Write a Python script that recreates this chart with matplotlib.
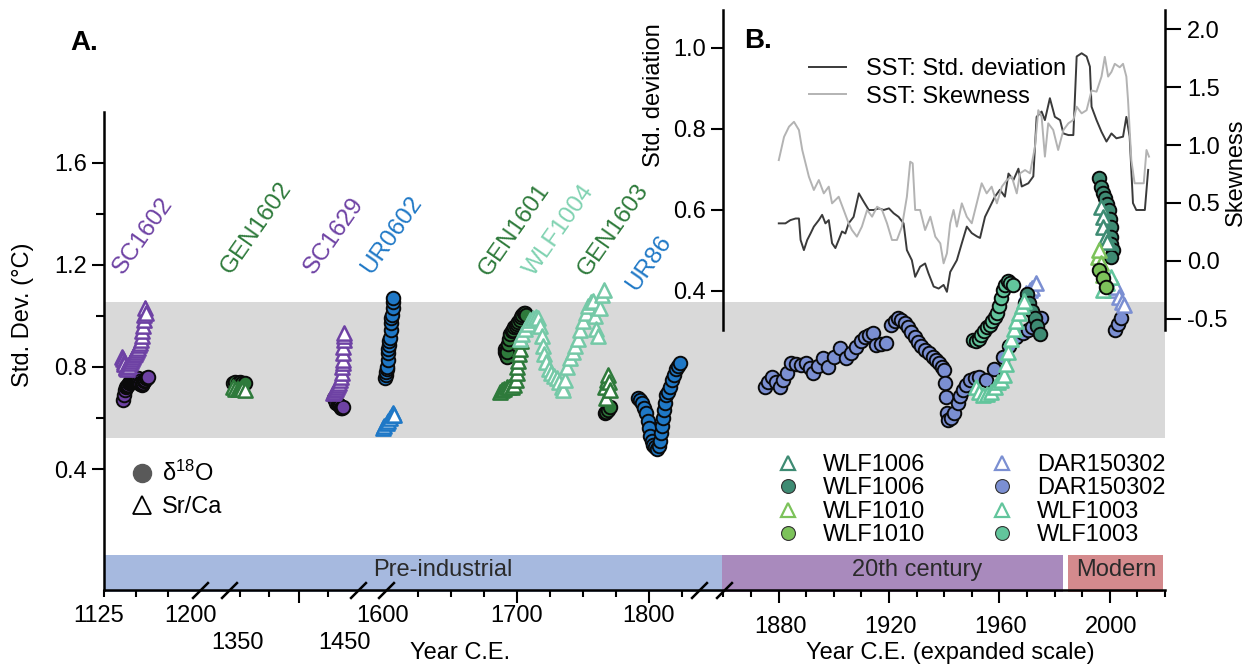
import numpy as np
import matplotlib
matplotlib.use("Agg")
import matplotlib.pyplot as plt
from matplotlib.lines import Line2D
from matplotlib.path import Path
from matplotlib.ticker import FixedLocator, NullFormatter, FormatStrFormatter

plt.rcParams['font.family'] = ['Liberation Sans', 'DejaVu Sans']
plt.rcParams['mathtext.default'] = 'regular'
plt.rcParams['axes.linewidth'] = 1.8

# ------------------------- DATA -------------------------
sc1602_d18o_yr = [1140.0, 1140.8, 1141.5, 1142.3, 1143.0, 1143.8, 1144.5, 1145.3, 1146.0, 1146.8, 1147.5, 1148.3,
                  1149.0, 1149.8, 1150.5, 1151.3, 1152.0, 1152.8, 1153.5, 1154.3, 1155.0, 1155.8, 1156.5, 1157.3,
                  1158.0, 1158.8, 1159.5]
sc1602_d18o = [0.67, 0.69, 0.71, 0.72, 0.725, 0.73, 0.735, 0.74, 0.742, 0.745, 0.748, 0.75, 0.752, 0.755, 0.757,
               0.755, 0.745, 0.737, 0.733, 0.73, 0.732, 0.738, 0.745, 0.75, 0.755, 0.758, 0.762]
sc1602_srca_yr = [1138.8, 1139.5, 1140.3, 1141.0, 1141.8, 1142.5, 1143.3, 1144.0, 1144.8, 1145.5, 1146.3, 1147.0,
                  1147.8, 1148.5, 1149.3, 1150.0, 1150.8, 1151.5, 1152.3, 1153.0, 1153.8, 1154.5, 1155.0, 1155.5,
                  1156.0, 1156.5, 1157.0, 1157.8]
sc1602_srca = [0.84, 0.83, 0.82, 0.81, 0.80, 0.795, 0.79, 0.80, 0.805, 0.815, 0.825, 0.83, 0.84, 0.845, 0.85, 0.86,
               0.865, 0.875, 0.885, 0.895, 0.905, 0.92, 0.94, 0.96, 0.985, 1.005, 1.03, 1.01]

gen1602_d18o_yr = [1344, 1346, 1348, 1350, 1352, 1354]
gen1602_d18o = [0.735, 0.74, 0.738, 0.74, 0.737, 0.735]
gen1602_srca_yr = [1344, 1346, 1348, 1350, 1352, 1354]
gen1602_srca = [0.72, 0.715, 0.713, 0.715, 0.712, 0.71]

sc1629_d18o_yr = [1430.0, 1431.0, 1432.0, 1433.0, 1434.0, 1435.0, 1436.0, 1437.0, 1437.8]
sc1629_d18o = [0.68, 0.67, 0.66, 0.655, 0.65, 0.645, 0.64, 0.638, 0.643]
sc1629_srca_yr = [1429.1, 1430.0, 1430.9, 1431.8, 1432.6, 1433.5, 1434.3, 1435.1, 1436.0, 1436.8, 1437.2, 1437.5,
                  1437.7, 1437.7, 1437.9, 1438.1, 1438.3, 1438.5]
sc1629_srca = [0.698, 0.703, 0.71, 0.715, 0.72, 0.728, 0.737, 0.749, 0.76, 0.776, 0.80, 0.815, 0.827, 0.854, 0.878,
               0.905, 0.92, 0.933]

ur0602_d18o_yr = [1600.0, 1600.4, 1600.8, 1601.2, 1601.5, 1601.9, 1602.3, 1602.6, 1603.0, 1603.4, 1603.8, 1604.2,
                  1604.5, 1604.9, 1605.3, 1605.7, 1606.0, 1606.4]
ur0602_d18o = [0.757, 0.77, 0.78, 0.79, 0.80, 0.827, 0.855, 0.87, 0.886, 0.90, 0.913, 0.945, 0.972, 0.99, 1.003,
               1.03, 1.054, 1.07]
ur0602_srca_yr = [1590.7, 1597.0, 1601.3, 1602.5, 1603.8, 1605.0, 1606.3, 1606.7]
ur0602_srca = [0.56, 0.57, 0.58, 0.59, 0.60, 0.61, 0.62, 0.61]

gen1601_d18o_yr = [1690.5, 1691.0, 1691.5, 1692.0, 1692.5, 1693.0, 1694.0, 1695.0, 1696.0, 1697.0, 1698.0, 1699.0,
                   1700.0, 1701.0, 1702.0, 1703.0, 1704.0, 1705.0, 1706.0, 1707.0]
gen1601_d18o = [0.87, 0.86, 0.85, 0.84, 0.86, 0.89, 0.91, 0.93, 0.94, 0.945, 0.955, 0.96, 0.97, 0.975, 0.985, 0.995,
                1.005, 1.01, 1.01, 1.005]
gen1601_srca_yr = [1687, 1688.5, 1690, 1692, 1694, 1696, 1698, 1699, 1699.7, 1700.2, 1700.9, 1701.5, 1702.2, 1703]
gen1601_srca = [0.70, 0.71, 0.715, 0.72, 0.72, 0.722, 0.73, 0.75, 0.775, 0.80, 0.825, 0.85, 0.87, 0.90]

wlf1004_srca_yr = [1702.2, 1704, 1706, 1708, 1710, 1712, 1714, 1716, 1717.5, 1718.5, 1719.5, 1720.5, 1722, 1724,
                   1726, 1728, 1730, 1732, 1734, 1735, 1736.5, 1738, 1740, 1742, 1744, 1746, 1748, 1750, 1752, 1754,
                   1756, 1757.5, 1759, 1760, 1761.5, 1763, 1764.5, 1766]
wlf1004_srca = [0.91, 0.93, 0.95, 0.97, 0.985, 0.99, 0.995, 0.99, 0.96, 0.92, 0.88, 0.85, 0.82, 0.79, 0.775, 0.765,
                0.755, 0.74, 0.72, 0.71, 0.75, 0.80, 0.835, 0.86, 0.88, 0.91, 0.945, 0.98, 1.01, 1.04, 1.055, 1.06,
                1.0, 0.95, 0.92, 1.03, 1.08, 1.10]

gen1603_d18o_yr = [1766.5, 1767.5, 1768.8, 1770.3]
gen1603_d18o = [0.62, 0.625, 0.631, 0.643]
gen1603_srca_yr = [1766.5, 1767.3, 1768.0, 1768.8, 1769.5, 1770.3]
gen1603_srca = [0.72, 0.68, 0.75, 0.768, 0.74, 0.71]

ur86_d18o_yr = [1791.5, 1793, 1794.5, 1796, 1797.5, 1799, 1800, 1801, 1802, 1803, 1804.5, 1806, 1807.5, 1808.5,
                1809.2, 1809.7, 1810.2, 1811, 1812, 1813, 1814.5, 1816, 1817.5, 1819, 1820.5, 1822, 1823.5]
ur86_d18o = [0.68, 0.67, 0.66, 0.64, 0.62, 0.59, 0.56, 0.53, 0.51, 0.495, 0.485, 0.48, 0.49, 0.51, 0.54, 0.57, 0.60,
             0.63, 0.66, 0.69, 0.70, 0.72, 0.75, 0.77, 0.79, 0.805, 0.815]

dar150302_d18o_yr = [1875.0, 1876.3, 1877.5, 1879.0, 1880.5, 1881.7, 1882.9, 1884.7, 1886.5, 1888.3, 1890.1, 1891.3,
                     1892.5, 1894.3, 1896.2, 1898.0, 1900.1, 1902.2, 1904.6, 1906.4, 1908.2, 1909.7, 1911.2, 1912.7,
                     1914.2, 1915.4, 1917.2, 1919.0, 1920.9, 1922.1, 1923.3, 1924.5, 1925.7, 1926.9, 1928.1, 1929.3,
                     1930.5, 1931.7, 1932.9, 1934.4, 1935.9, 1937.1, 1938.3, 1939.2, 1940.1, 1940.4, 1940.7, 1941.0,
                     1941.3, 1942.5, 1943.7, 1944.9, 1945.8, 1946.7, 1948.0, 1949.2, 1951.0, 1952.8, 1955.2, 1958.2,
                     1961.2, 1963.6, 1966.0, 1968.4, 1970.2, 1972.0, 1973.5, 1975.0, 2001.9, 2003.0, 2004.0]
dar150302_d18o = [0.722, 0.74, 0.762, 0.74, 0.722, 0.75, 0.775, 0.814, 0.81, 0.807, 0.814, 0.795, 0.775, 0.805,
                  0.834, 0.80, 0.84, 0.873, 0.834, 0.855, 0.879, 0.90, 0.918, 0.925, 0.932, 0.886, 0.89, 0.892,
                  0.964, 0.978, 0.99, 0.985, 0.971, 0.955, 0.938, 0.918, 0.899, 0.882, 0.866, 0.853, 0.84, 0.827,
                  0.814, 0.80, 0.788, 0.736, 0.683, 0.618, 0.592, 0.60, 0.618, 0.657, 0.685, 0.709, 0.73, 0.749,
                  0.755, 0.762, 0.749, 0.79, 0.84, 0.88, 0.918, 0.932, 0.945, 0.957, 0.975, 0.99, 0.945, 0.97, 0.99]
dar150302_srca_yr = [1969.7, 1971.0, 1972.0, 1973.3, 2000.9, 2002.2, 2003.4, 2004.6, 2005.2]
dar150302_srca = [1.088, 1.10, 1.11, 1.127, 1.10, 1.114, 1.075, 1.055, 1.042]

wlf1003_d18o_yr = [1950.4, 1951.5, 1952.5, 1953.5, 1954.6, 1955.5, 1956.5, 1957.5, 1958.5, 1959.3, 1960.0, 1960.6,
                   1961.2, 1962.0, 1963.0, 1964.0, 1964.8]
wlf1003_d18o = [0.905, 0.90, 0.91, 0.925, 0.94, 0.955, 0.965, 0.98, 0.995, 1.01, 1.04, 1.07, 1.10, 1.12, 1.135,
                1.13, 1.12]
wlf1003_srca_yr = [1951.5, 1952.5, 1954.0, 1955.5, 1957.0, 1958.5, 1959.5, 1960.5, 1961.5, 1962.5, 1963.3, 1964.2,
                   1965.2, 1966.2, 1967.2, 1968.2, 1969.0, 1997.7, 1999.1, 2000.4]
wlf1003_srca = [0.72, 0.70, 0.69, 0.695, 0.70, 0.72, 0.74, 0.75, 0.77, 0.81, 0.86, 0.91, 0.95, 0.98, 1.01, 1.04,
                1.06, 1.10, 1.127, 1.153]

wlf1006_d18o_yr = [1969.3, 1970.0, 1970.8, 1971.8, 1972.8, 1973.8, 1974.8, 1996.2, 1996.8, 1997.5, 1998.2, 1999.1,
                   1999.8, 2000.1, 2000.4, 2000.4, 2000.6, 2001.0, 2000.4]
wlf1006_d18o = [1.05, 1.085, 1.05, 1.02, 0.99, 0.96, 0.93, 1.539, 1.506, 1.48, 1.46, 1.44, 1.415, 1.38, 1.35, 1.31,
                1.28, 1.258, 1.232]
wlf1006_srca_yr = [1996.8, 1997.4, 1997.7, 1998.6, 1999.0]
wlf1006_srca = [1.428, 1.389, 1.35, 1.31, 1.29]

wlf1010_d18o_yr = [1996.2, 1997.4, 1998.6]
wlf1010_d18o = [1.18, 1.147, 1.114]
wlf1010_srca_yr = [1995.6, 1996.2, 1996.8, 1997.4]
wlf1010_srca = [1.232, 1.258, 1.206, 1.16]

# Inset: SST running statistics
sst_std_yr = [1880.1, 1882.5, 1884.3, 1886.2, 1887.4, 1888.0, 1889.2, 1890.4, 1891.6, 1892.8, 1894.6, 1895.8,
              1897.0, 1898.2, 1899.4, 1900.6, 1901.8, 1903.0, 1904.2, 1905.4, 1907.2, 1909.1, 1910.9, 1912.7,
              1914.5, 1916.3, 1918.1, 1920.0, 1921.7, 1923.5, 1925.3, 1926.5, 1928.3, 1929.5, 1931.3, 1933.1,
              1934.3, 1936.2, 1938.0, 1939.8, 1941.0, 1942.2, 1944.6, 1946.4, 1948.2, 1950.0, 1951.8, 1953.0,
              1954.8, 1956.6, 1958.4, 1960.2, 1962.0, 1963.3, 1965.1, 1966.9, 1968.1, 1970.5, 1972.3, 1973.5,
              1975.3, 1976.5, 1978.3, 1980.1, 1982.0, 1983.2, 1985.0, 1986.8, 1988.0, 1989.8, 1991.6, 1992.8,
              1993.4, 1995.2, 1997.0, 1998.8, 2000.6, 2002.4, 2004.8, 2006.0, 2007.2, 2008.4, 2009.6, 2012.7,
              2013.9]
sst_std = [0.567, 0.567, 0.575, 0.579, 0.579, 0.526, 0.501, 0.526, 0.542, 0.559, 0.575, 0.588, 0.567, 0.575, 0.518,
           0.506, 0.526, 0.547, 0.542, 0.567, 0.583, 0.641, 0.62, 0.60, 0.60, 0.604, 0.60, 0.604, 0.592, 0.583,
           0.567, 0.501, 0.476, 0.435, 0.46, 0.468, 0.444, 0.411, 0.406, 0.415, 0.398, 0.447, 0.476, 0.518, 0.559,
           0.543, 0.535, 0.531, 0.583, 0.608, 0.633, 0.65, 0.633, 0.69, 0.674, 0.702, 0.658, 0.666, 0.683, 0.83,
           0.843, 0.822, 0.876, 0.83, 0.822, 0.789, 0.785, 0.785, 0.979, 0.987, 0.979, 0.954, 0.855, 0.822, 0.793,
           0.769, 0.789, 0.777, 0.781, 0.83, 0.781, 0.617, 0.60, 0.60, 0.699]
sst_skew_yr = [1880.1, 1882.0, 1883.8, 1885.6, 1887.4, 1888.6, 1889.8, 1891.0, 1892.8, 1894.6, 1896.4, 1898.2,
               1899.4, 1901.8, 1903.6, 1905.4, 1906.6, 1908.4, 1910.2, 1912.1, 1913.9, 1915.7, 1917.5, 1919.3,
               1921.1, 1922.9, 1924.7, 1926.5, 1927.7, 1928.6, 1929.5, 1931.3, 1933.1, 1935.0, 1936.8, 1938.6,
               1939.8, 1941.0, 1942.2, 1943.4, 1944.6, 1946.4, 1948.2, 1950.0, 1951.8, 1953.6, 1955.4, 1957.2,
               1959.1, 1960.9, 1962.7, 1964.5, 1966.3, 1967.5, 1969.3, 1971.1, 1972.9, 1974.1, 1975.3, 1976.5,
               1977.7, 1979.5, 1981.3, 1983.2, 1985.0, 1986.8, 1988.0, 1989.8, 1991.6, 1993.4, 1995.2, 1997.0,
               1998.2, 1999.4, 2000.6, 2001.8, 2003.6, 2004.8, 2006.0, 2006.6, 2007.8, 2009.0, 2010.9, 2012.3,
               2013.3, 2014.2]
sst_skew = [0.87, 1.07, 1.158, 1.20, 1.129, 0.957, 0.842, 0.727, 0.612, 0.698, 0.583, 0.641, 0.497, 0.554, 0.44,
            0.325, 0.267, 0.21, 0.296, 0.44, 0.382, 0.468, 0.44, 0.325, 0.181, 0.181, 0.296, 0.554, 0.856, 0.842,
            0.44, 0.44, 0.267, 0.382, 0.21, 0.152, -0.02, 0.066, 0.325, 0.44, 0.296, 0.497, 0.382, 0.325, 0.497,
            0.67, 0.583, 0.641, 0.497, 0.641, 0.698, 0.727, 0.583, 0.756, 0.784, 0.756, 0.985, 1.30, 1.244, 0.90,
            1.187, 1.13, 0.957, 1.129, 1.187, 1.216, 1.33, 1.273, 1.30, 1.47, 1.46, 1.59, 1.76, 1.59, 1.63, 1.70,
            1.67, 1.70, 1.59, 1.39, 0.87, 0.67, 0.67, 0.67, 0.957, 0.90]

# periods
period_names = ['Pre-industrial', '20th century', 'Modern']
period_start = [1125, 1858.5, 1985]
period_end = [1858.5, 1983, 2019.3]

# ------------------------- STYLE -------------------------
C_SC = '#6e42a4'
C_GEN = '#2e7a3b'
C_UR = '#1f78c6'
C_WLF1004 = '#75c9a7'
C_WLF1006 = '#3e8b73'
C_WLF1010 = '#7cc25a'
C_DAR = '#7b8fd2'
C_WLF1003 = '#62c59c'
PERIOD_COLORS = ['#a6b9df', '#a98abd', '#d48a8d']

W, H = 1256, 669
fig = plt.figure(figsize=(W / 100, H / 100), dpi=100)


def fx(p):
    return p / W


def fy(p):
    return 1 - p / H


# broken x axis: year -> position (function scale)
axis_years = [1000, 1125, 1200, 1340, 1450, 1600, 1840, 1860, 2020, 2100]
axis_pos = [-56.0, 104.0, 200.0, 228.25, 357.5, 385.0, 702.0, 723.3, 1165.0, 1386.4]


def fwd(x):
    return np.interp(x, axis_years, axis_pos)


def inv(p):
    return np.interp(p, axis_pos, axis_years)


ax = fig.add_axes([fx(104), fy(590), 1061 / W, 478 / H])
ax.set_xscale('function', functions=(fwd, inv))
ax.set_xlim(1125, 2020)
ax.set_ylim(-0.074, 1.7986)
for s in ['top', 'right']:
    ax.spines[s].set_visible(False)

ax.xaxis.set_major_locator(FixedLocator([1400, 1700, 1800, 1880, 1920, 1960, 2000]))
ax.xaxis.set_minor_locator(FixedLocator([1125, 1150, 1175, 1350, 1375, 1425, 1625, 1650, 1675, 1725, 1750, 1775,
                                         1825, 1860, 1870, 1890, 1900, 1910, 1930, 1940, 1950, 1970, 1980, 1990,
                                         2010, 2020]))
ax.xaxis.set_major_formatter(NullFormatter())
ax.xaxis.set_minor_formatter(NullFormatter())
ax.tick_params(axis='x', which='major', length=9.4, width=1.5)
ax.tick_params(axis='x', which='minor', length=5, width=1.5)
ax.yaxis.set_major_locator(FixedLocator([0.4, 0.8, 1.2, 1.6]))
ax.yaxis.set_minor_locator(FixedLocator([0.6, 1.0, 1.4]))
ax.yaxis.set_major_formatter(FormatStrFormatter('%.1f'))
ax.tick_params(axis='y', which='major', length=8.9, width=1.5, pad=3.6, labelsize=17)
ax.tick_params(axis='y', which='minor', length=5.5, width=1.5)

# shaded envelope
ax.axhspan(0.521, 1.056, color='#d9d9d9', lw=0, zorder=0)

# period bars
for name, x0, x1, c in zip(period_names, period_start, period_end, PERIOD_COLORS):
    ax.axvspan(x0, x1, ymin=-0.004, ymax=0.073, color=c, lw=0, zorder=0.5, clip_on=False)

# axis break marks
slash = Path([(-1, -1), (1, 1)], [Path.MOVETO, Path.LINETO])
ax.plot([1201, 1341, 1450.5, 1601, 1838, 1860.3], [0] * 6, transform=ax.get_xaxis_transform(),
        ls='none', marker=slash, ms=12, mew=1.8, mec='k', clip_on=False, zorder=6)


def circ(x, y, c, z=3):
    ax.scatter(x, y, s=95, marker='o', facecolors=c, edgecolors='#0a0a0a', linewidths=1.4, zorder=z)


def tri(x, y, c, z=3.5):
    ax.scatter(x, y, s=105, marker='^', facecolors='white', edgecolors=c, linewidths=1.8, zorder=z)


circ(sc1602_d18o_yr, sc1602_d18o, C_SC)
tri(sc1602_srca_yr, sc1602_srca, C_SC)
circ(gen1602_d18o_yr, gen1602_d18o, C_GEN)
tri(gen1602_srca_yr, gen1602_srca, C_GEN)
tri(sc1629_srca_yr, sc1629_srca, C_SC)
circ(sc1629_d18o_yr, sc1629_d18o, C_SC)
tri(ur0602_srca_yr, ur0602_srca, C_UR)
circ(ur0602_d18o_yr, ur0602_d18o, C_UR)
circ(gen1601_d18o_yr, gen1601_d18o, C_GEN)
tri(gen1601_srca_yr, gen1601_srca, C_GEN)
tri(wlf1004_srca_yr, wlf1004_srca, C_WLF1004)
circ(gen1603_d18o_yr, gen1603_d18o, C_GEN)
tri(gen1603_srca_yr, gen1603_srca, C_GEN)
circ(ur86_d18o_yr, ur86_d18o, C_UR)
circ(dar150302_d18o_yr, dar150302_d18o, C_DAR)
tri(dar150302_srca_yr, dar150302_srca, C_DAR)
circ(wlf1006_d18o_yr, wlf1006_d18o, C_WLF1006, z=3.6)
circ(wlf1003_d18o_yr, wlf1003_d18o, C_WLF1003, z=3.7)
tri(wlf1003_srca_yr, wlf1003_srca, C_WLF1003, z=3.8)
tri(wlf1006_srca_yr, wlf1006_srca, C_WLF1006, z=3.9)
tri(wlf1010_srca_yr, wlf1010_srca, C_WLF1010, z=3.95)
circ(wlf1010_d18o_yr, wlf1010_d18o, C_WLF1010, z=4)

# coral labels
coral_labels = [('SC1602', 123, 275, C_SC), ('GEN1602', 231, 275, C_GEN), ('SC1629', 314, 275, C_SC),
                ('UR0602', 371, 275, C_UR), ('GEN1601', 489, 277, C_GEN), ('WLF1004', 534, 277, '#80d2b1'),
                ('GEN1603', 588, 277, C_GEN), ('UR86', 636, 292, C_UR)]
for name, px, py, c in coral_labels:
    fig.text(fx(px), fy(py), name, rotation=55, rotation_mode='anchor', ha='left', va='baseline',
             color=c, fontsize=17.5)

# x tick labels (broken scale)
for s, px, py in [('1125', 99, 616), ('1200', 190, 616), ('1600', 382.5, 616), ('1700', 516.7, 616),
                  ('1800', 648.5, 616), ('1350', 237.5, 643), ('1450', 344, 643), ('1880', 780, 627),
                  ('1920', 890.7, 627), ('1960', 1001, 627), ('2000', 1110.7, 627)]:
    fig.text(fx(px), fy(py), s, ha='center', va='center', fontsize=17)
fig.text(fx(460), fy(653), 'Year C.E.', ha='center', va='center', fontsize=17)
fig.text(fx(950), fy(653), 'Year C.E. (expanded scale)', ha='center', va='center', fontsize=17)

# period labels
for name, px in zip(period_names, [443, 916.7, 1116]):
    fig.text(fx(px), fy(570), name, ha='center', va='center', fontsize=17, color='#2a2a2a')

fig.text(fx(23), fy(315), 'Std. Dev. (°C)', rotation=90, ha='center', va='center', fontsize=17)
fig.text(fx(70), fy(43), 'A.', fontsize=20, fontweight='bold', va='center', ha='left')

# proxy legend (d18O / Sr/Ca)
h1 = Line2D([], [], ls='none', marker='o', ms=13, mfc='#595959', mec='#595959')
h2 = Line2D([], [], ls='none', marker='^', ms=13, mfc='white', mec='k', mew=1.3)
leg1 = ax.legend([h1, h2], ['δ$^{18}$O', 'Sr/Ca'], loc='upper left', bbox_to_anchor=(fx(130), fy(461)),
                 bbox_transform=fig.transFigure, frameon=False, fontsize=17, handlelength=1.0,
                 handletextpad=0.36, labelspacing=0.42, borderpad=0, borderaxespad=0)
ax.add_artist(leg1)


# sample legend
def lh(marker, c):
    if marker == '^':
        return Line2D([], [], ls='none', marker='^', ms=10, mfc='white', mec=c, mew=1.6)
    return Line2D([], [], ls='none', marker='o', ms=10, mfc=c, mec='#333333', mew=0.8)


leg_handles = [lh('^', C_WLF1006), lh('o', C_WLF1006), lh('^', C_WLF1010), lh('o', C_WLF1010),
               lh('^', C_DAR), lh('o', C_DAR), lh('^', C_WLF1003), lh('o', C_WLF1003)]
leg_labels = ['WLF1006', 'WLF1006', 'WLF1010', 'WLF1010', 'DAR150302', 'DAR150302', 'WLF1003', 'WLF1003']
ax.legend(leg_handles, leg_labels, ncol=2, loc='upper left', bbox_to_anchor=(fx(776), fy(454)),
          bbox_transform=fig.transFigure, frameon=False, fontsize=17, handlelength=1.0, handletextpad=0.97,
          columnspacing=2.78, labelspacing=0.06, borderpad=0, borderaxespad=0)

# ------------------------- INSET -------------------------
axin = fig.add_axes([fx(723.3), fy(330), 441.7 / W, 320 / H])
axin.patch.set_visible(False)
axin.set_xlim(1860, 2020)
axin.set_ylim(0.3037, 1.0938)
for s in ['top', 'bottom', 'right']:
    axin.spines[s].set_visible(False)
axin.tick_params(axis='x', bottom=False, labelbottom=False)
axin.yaxis.set_major_locator(FixedLocator([0.4, 0.6, 0.8, 1.0]))
axin.yaxis.set_major_formatter(FormatStrFormatter('%.1f'))
axin.tick_params(axis='y', length=8.6, width=1.5, pad=3.6, labelsize=17)
l_std, = axin.plot(sst_std_yr, sst_std, color='#3a3a3a', lw=1.4)

axsk = axin.twinx()
axsk.set_ylim(-0.595, 2.164)
for s in ['top', 'bottom', 'left']:
    axsk.spines[s].set_visible(False)
axsk.yaxis.set_major_locator(FixedLocator([-0.5, 0.0, 0.5, 1.0, 1.5, 2.0]))
axsk.yaxis.set_major_formatter(FormatStrFormatter('%.1f'))
axsk.tick_params(axis='y', length=11.5, width=1.5, pad=4.5, labelsize=17)
l_sk, = axsk.plot(sst_skew_yr, sst_skew, color='#b3b3b3', lw=1.4)

axsk.legend([l_std, l_sk], ['SST: Std. deviation', 'SST: Skewness'], loc='center left',
            bbox_to_anchor=(fx(809), fy(83)), bbox_transform=fig.transFigure, frameon=False, fontsize=17,
            handlelength=1.57, handletextpad=0.85, labelspacing=0.22, borderpad=0, borderaxespad=0)

fig.text(fx(654), fy(95), 'Std. deviation', rotation=90, ha='center', va='center', fontsize=17)
fig.text(fx(1236), fy(172), 'Skewness', rotation=90, ha='center', va='center', fontsize=17)
fig.text(fx(744), fy(41), 'B.', fontsize=20, fontweight='bold', va='center', ha='left')

fig.savefig('out.png', dpi=100)
